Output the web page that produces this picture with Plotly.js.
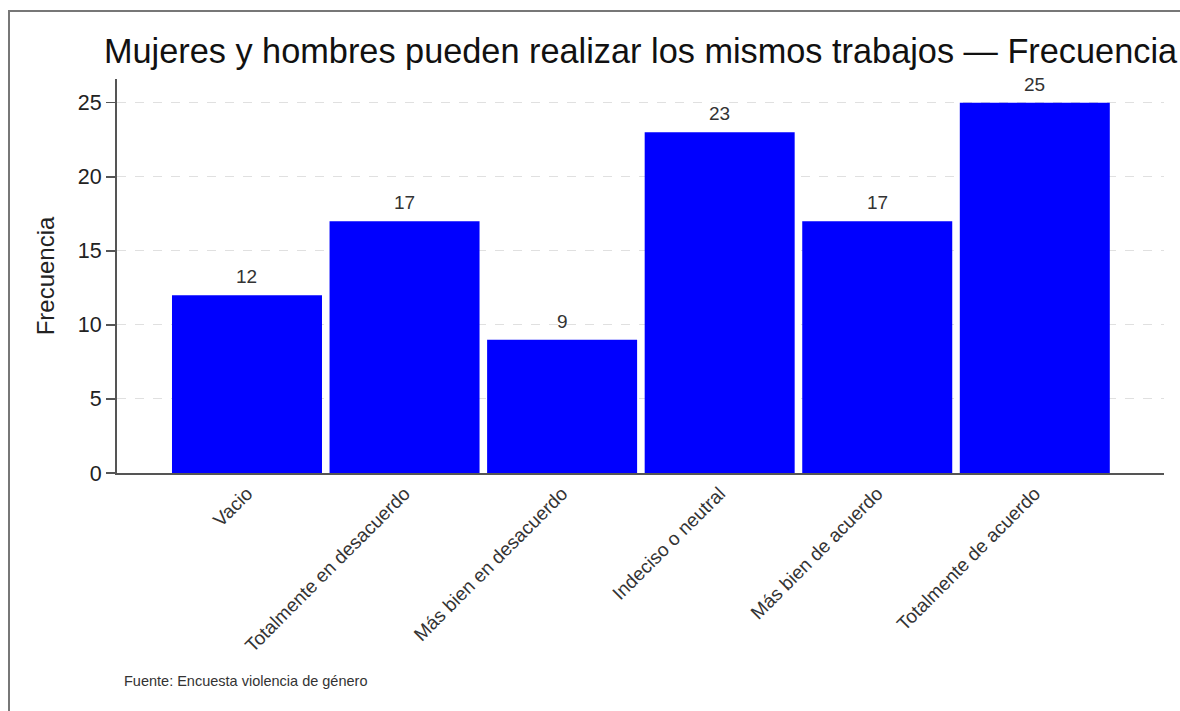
<!DOCTYPE html>
<html>
<head>
<meta charset="utf-8">
<script src="https://cdn.plot.ly/plotly-3.0.1.min.js"></script>
<style>
  html, body { margin: 0; padding: 0; background: #ffffff; overflow: hidden; width: 1180px; height: 711px; }
  #chart { position: absolute; left: 0; top: 0; width: 1180px; height: 711px; }
  .frame { position: absolute; background: #777777; pointer-events: none; }
  #frameTop { left: 8px; top: 10px; width: 1172px; height: 2px; }
  #frameLeft { left: 8px; top: 10px; width: 2px; height: 701px; }
</style>
</head>
<body>
<div id="chart"></div>
<div id="frameTop" class="frame"></div>
<div id="frameLeft" class="frame"></div>
<script>
const categories = ["Vacio", "Totalmente en desacuerdo", "Más bien en desacuerdo",
                    "Indeciso o neutral", "Más bien de acuerdo", "Totalmente de acuerdo"];
const frequencies = [12, 17, 9, 23, 17, 25];
const yTicks = [0, 5, 10, 15, 20, 25];
const titleText = "Mujeres y hombres pueden realizar los mismos trabajos — Frecuencia";
const yTitle = "Frecuencia";
const sourceNote = "Fuente: Encuesta violencia de género";

const font = "Liberation Sans, Arial, Helvetica, sans-serif";

const trace = {
  type: "bar",
  x: categories,
  y: frequencies,
  width: 0.952,
  marker: { color: "#0000ff", line: { width: 0 } },
  hoverinfo: "x+y"
};

const labelAnnotations = categories.map((c, i) => ({
  x: c, y: frequencies[i], xref: "x", yref: "y",
  text: String(frequencies[i]), showarrow: false,
  yanchor: "bottom", yshift: 6,
  font: { family: font, size: 19, color: "#333333" }
}));

const layout = {
  width: 1180, height: 711,
  margin: { l: 117, r: 16, t: 79, b: 238, pad: 0 },
  paper_bgcolor: "#ffffff", plot_bgcolor: "#ffffff",
  showlegend: false,
  font: { family: font, color: "#222222" },
  title: {
    text: titleText,
    font: { family: font, size: 34.3, color: "#111111" },
    xref: "paper", x: 0.5, xanchor: "center",
    yref: "container", y: 1 - 51 / 711, yanchor: "middle"
  },
  xaxis: {
    type: "category",
    range: [-0.825, 5.82],
    showline: true, linecolor: "#555555", linewidth: 2,
    ticks: "", showgrid: false, zeroline: false,
    tickangle: -45,
    tickfont: { family: font, size: 19, color: "#333333" },
    automargin: false
  },
  yaxis: {
    range: [0, 26.6],
    tickvals: yTicks,
    showline: true, linecolor: "#555555", linewidth: 2,
    ticks: "outside", ticklen: 9, tickwidth: 1.5, tickcolor: "#555555",
    tickfont: { family: font, size: 21.5, color: "#222222" },
    showgrid: true, gridcolor: "#e0e0e0", gridwidth: 1, griddash: "dash",
    zeroline: false,
    title: { text: yTitle, font: { family: font, size: 24, color: "#222222" }, standoff: 16 },
    automargin: false
  },
  annotations: labelAnnotations.concat([{
    text: sourceNote, showarrow: false,
    xref: "paper", x: 0.005, xanchor: "left",
    yref: "paper", y: (473 - 681) / 394, yanchor: "middle",
    font: { family: font, size: 14.5, color: "#333333" }
  }])
};

Plotly.newPlot("chart", [trace], layout, { displayModeBar: false, staticPlot: true });
</script>
</body>
</html>
